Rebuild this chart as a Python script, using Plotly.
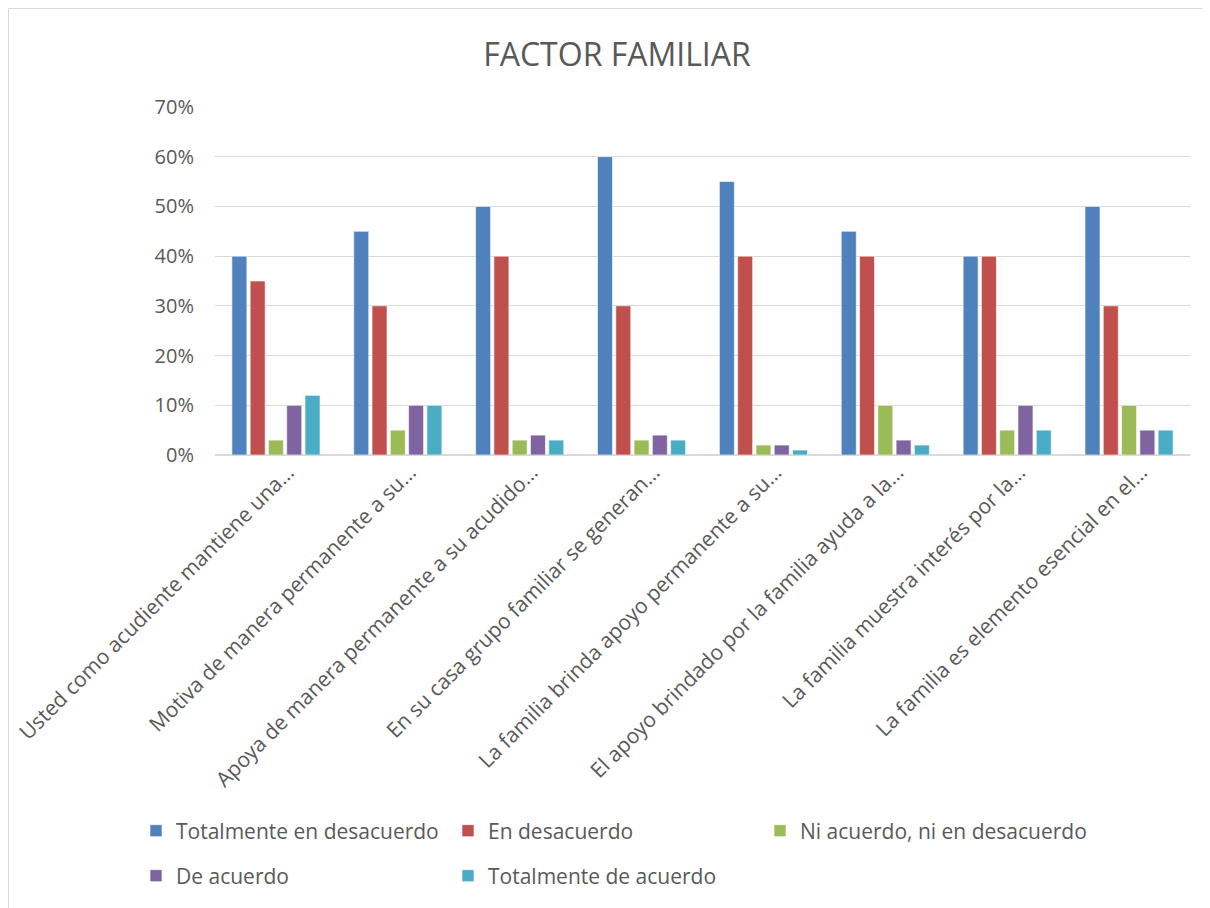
import plotly.graph_objects as go

categories = [
    "Usted como acudiente mantiene una…",
    "Motiva de manera permanente a su…",
    "Apoya de manera permanente a su acudido…",
    "En su casa grupo familiar se generan…",
    "La familia brinda apoyo permanente a su…",
    "El apoyo brindado por la familia ayuda a la…",
    "La familia muestra interés por la…",
    "La familia es elemento esencial en el…",
]
series_names = [
    "Totalmente en desacuerdo",
    "En desacuerdo",
    "Ni acuerdo, ni en desacuerdo",
    "De acuerdo",
    "Totalmente de acuerdo",
]
totalmente_desacuerdo = [0.40, 0.45, 0.50, 0.60, 0.55, 0.45, 0.40, 0.50]
en_desacuerdo = [0.35, 0.30, 0.40, 0.30, 0.40, 0.40, 0.40, 0.30]
ni_acuerdo = [0.03, 0.05, 0.03, 0.03, 0.02, 0.10, 0.05, 0.10]
de_acuerdo = [0.10, 0.10, 0.04, 0.04, 0.02, 0.03, 0.10, 0.05]
totalmente_acuerdo = [0.12, 0.10, 0.03, 0.03, 0.01, 0.02, 0.05, 0.05]
colors = ["#4F81BD", "#C0504D", "#9BBB59", "#8064A2", "#4BACC6"]

values = [totalmente_desacuerdo, en_desacuerdo, ni_acuerdo, de_acuerdo, totalmente_acuerdo]
legend_ids = ["legend", "legend", "legend3", "legend2", "legend2"]

FONT = "Open Sans, sans-serif"
GREY = "#595959"

fig = go.Figure()
for name, vals, col, lg in zip(series_names, values, colors, legend_ids):
    fig.add_trace(go.Bar(
        x=categories, y=vals, name=name, legend=lg,
        marker=dict(color=col, line=dict(color="rgba(255,255,255,0.6)", width=1)),
    ))

W, H = 1210, 908
ml, mr, mt, mb = 207, 28, 99, 461
pw = W - ml - mr
ph = H - mt - mb
plot_bottom = H - mb


def px_x(x):
    return (x - ml) / pw


def px_y(y):
    return (plot_bottom - y) / ph


legend_common = dict(orientation="h", xanchor="left", yanchor="middle",
                     entrywidth=267, entrywidthmode="pixels",
                     font=dict(family=FONT, size=21, color=GREY),
                     itemwidth=30, bgcolor="rgba(0,0,0,0)")
legend_single = dict(orientation="h", xanchor="left", yanchor="middle",
                     font=dict(family=FONT, size=21, color=GREY),
                     itemwidth=30, bgcolor="rgba(0,0,0,0)")

fig.update_layout(
    width=W, height=H,
    margin=dict(l=ml, r=mr, t=mt, b=mb, autoexpand=False),
    paper_bgcolor="white", plot_bgcolor="white",
    barmode="group", bargap=0.25, bargroupgap=0.18,
    title=dict(text="FACTOR FAMILIAR", x=609 / W, xref="container", xanchor="center",
               y=1 - 47 / H, yanchor="middle",
               font=dict(family=FONT, size=32, color=GREY)),
    font=dict(family=FONT, color=GREY),
    xaxis=dict(tickangle=-45, tickfont=dict(family=FONT, size=21, color=GREY),
               showline=False, ticks="", showgrid=False, ticklabelshift=12,
               automargin=False),
    yaxis=dict(range=[0, 0.7], dtick=0.1, tickformat=".0%",
               tickfont=dict(family=FONT, size=20, color=GREY),
               gridcolor="#D9D9D9", gridwidth=1, zeroline=True, zerolinecolor="#D9D9D9",
               zerolinewidth=2, ticks="", ticklabelstandoff=20, automargin=False),
    legend=dict(x=px_x(128), y=px_y(823), **legend_common),
    legend2=dict(x=px_x(128), y=px_y(868), **legend_common),
    legend3=dict(x=px_x(128 + 624), y=px_y(823), **legend_single),
    shapes=[dict(type="rect", xref="paper", yref="paper",
                 x0=px_x(0.5), x1=px_x(W - 0.5),
                 y0=px_y(H - 0.5), y1=px_y(0.5),
                 line=dict(color="#D9D9D9", width=1))],
)

fig.write_html("out.html")
